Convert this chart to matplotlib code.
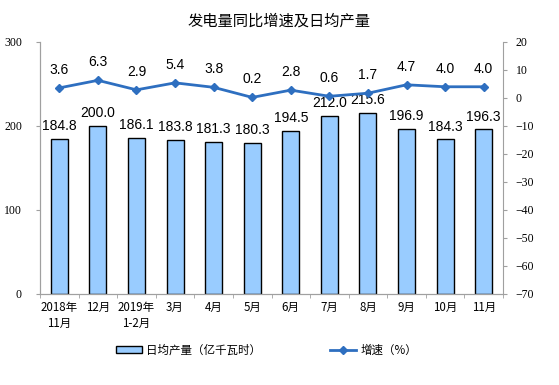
import matplotlib.pyplot as plt
import numpy as np
from matplotlib.ticker import FixedLocator

plt.rcParams['font.family'] = ['Noto Sans CJK SC', 'DejaVu Sans']

months = ['2018年\n11月', '12月', '2019年\n1-2月', '3月', '4月', '5月',
          '6月', '7月', '8月', '9月', '10月', '11月']
output = [184.8, 200.0, 186.1, 183.8, 181.3, 180.3,
          194.5, 212.0, 215.6, 196.9, 184.3, 196.3]
growth = [3.6, 6.3, 2.9, 5.4, 3.8, 0.2, 2.8, 0.6, 1.7, 4.7, 4.0, 4.0]

fig = plt.figure(figsize=(5.59, 3.85), dpi=100)
ax = fig.add_axes([0.0716, 0.2364, 0.8282, 0.6546])
ax2 = ax.twinx()

x = np.arange(len(months))
bars = ax.bar(x, output, width=0.44, color='#99ccff', edgecolor='black',
              linewidth=1.0, label='日均产量（亿千瓦时）', zorder=2)
line, = ax2.plot(x, growth, color='#2e6fc0', linewidth=2, marker='D',
                 markersize=4, label='增速（%）', zorder=3)

ax.set_xlim(-0.5, len(months) - 0.5)
ax.set_ylim(0, 300)
ax2.set_ylim(-70, 20)
ax.set_yticks([0, 100, 200, 300])
ax2.set_yticks(np.arange(-70, 21, 10))

ax.set_xticks(x)
ax.set_xticklabels(months, fontsize=8.3, linespacing=1.3)
ax.xaxis.set_minor_locator(FixedLocator(np.arange(-0.5, len(months), 1)))
ax.tick_params(axis='x', which='major', length=0, pad=5)
ax.tick_params(axis='x', which='minor', length=3, color='#a0a0a0', direction='out')
ax.tick_params(axis='y', length=3, color='#a0a0a0', labelsize=8.5, pad=10)
ax2.tick_params(axis='y', length=3, color='#a0a0a0', labelsize=8.5, pad=6)
for lab in ax.get_yticklabels() + ax2.get_yticklabels():
    lab.set_family(['Liberation Serif'])

for a in (ax, ax2):
    a.spines['top'].set_visible(False)
    for s in ('left', 'right', 'bottom'):
        a.spines[s].set_color('#a0a0a0')
ax.spines['right'].set_visible(False)

for xi, v in zip(x, output):
    ax.annotate(f'{v:.1f}', (xi, v), xytext=(0, 4), textcoords='offset points',
                ha='center', va='bottom', fontsize=10, family=['Liberation Sans'])
for xi, v in zip(x, growth):
    ax2.annotate(f'{v:.1f}', (xi, v), xytext=(0, 8), textcoords='offset points',
                 ha='center', va='bottom', fontsize=10, family=['Liberation Sans'])

fig.text(0.5, 0.945, '发电量同比增速及日均产量', ha='center', va='center', fontsize=11)

fig.legend(handles=[bars, line], loc='center', bbox_to_anchor=(0.477, 0.09),
           ncol=2, frameon=False, fontsize=8.3, columnspacing=6,
           handlelength=2.2, handleheight=0.5, handletextpad=0.4)

fig.savefig('out.png', dpi=100)
